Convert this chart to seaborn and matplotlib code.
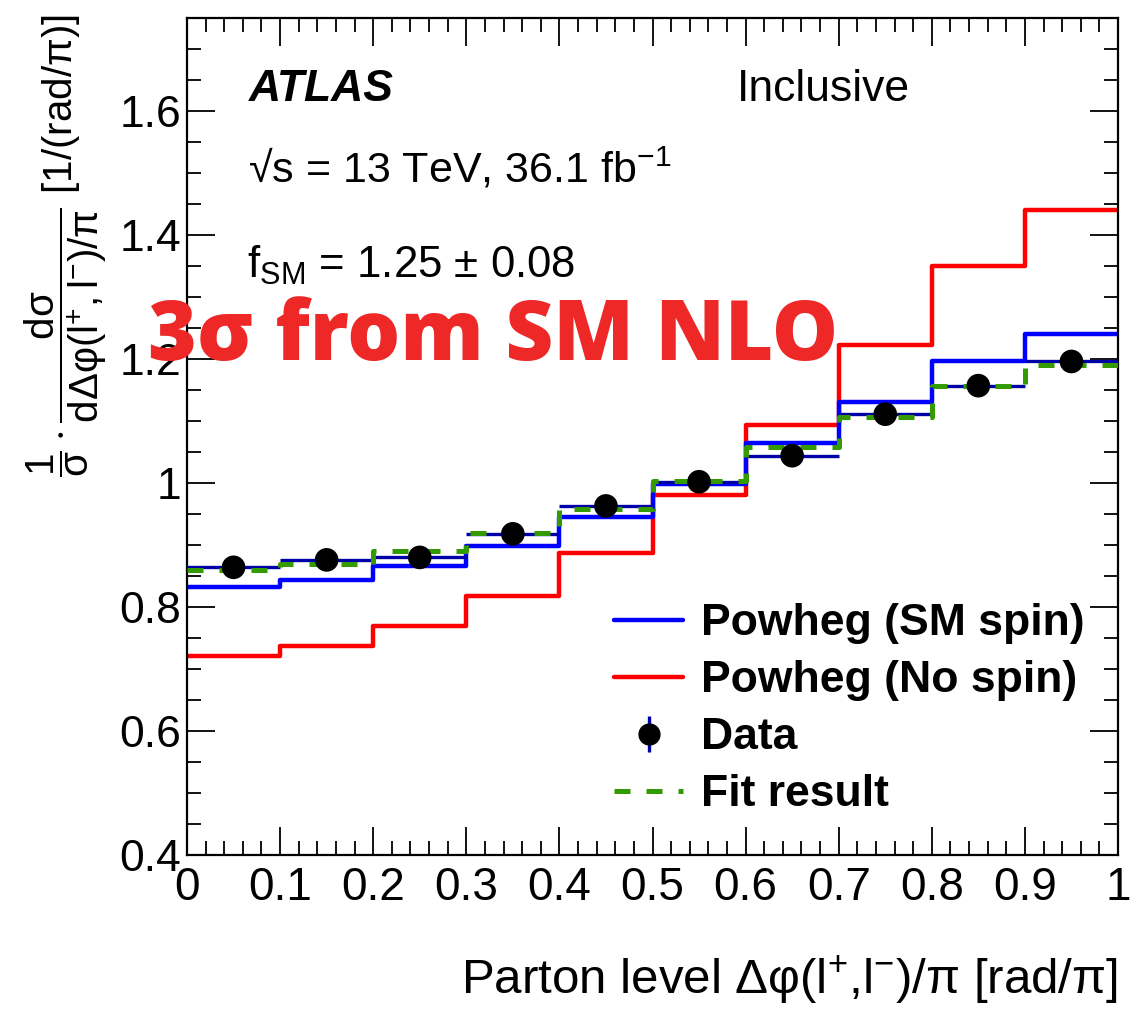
import numpy as np
import pandas as pd
import matplotlib
matplotlib.use("Agg")
import matplotlib.pyplot as plt
from matplotlib.lines import Line2D
from matplotlib.ticker import MultipleLocator
import seaborn as sns

# Bin edges of Δφ(l+,l-)/π
bin_edges = [0.0, 0.1, 0.2, 0.3, 0.4, 0.5, 0.6, 0.7, 0.8, 0.9, 1.0]
bin_centers = [0.05, 0.15, 0.25, 0.35, 0.45, 0.55, 0.65, 0.75, 0.85, 0.95]

# Normalised differential cross-sections per bin
powheg_sm_spin = [0.833, 0.843, 0.866, 0.898, 0.945, 0.999, 1.064, 1.130, 1.196, 1.240]
powheg_no_spin = [0.721, 0.737, 0.769, 0.818, 0.887, 0.980, 1.093, 1.222, 1.350, 1.441]
fit_result = [0.860, 0.869, 0.890, 0.919, 0.958, 1.004, 1.058, 1.107, 1.157, 1.191]
data_values = [0.864, 0.876, 0.880, 0.918, 0.963, 1.002, 1.044, 1.111, 1.157, 1.196]
data_errors = [0.006, 0.006, 0.007, 0.007, 0.008, 0.010, 0.009, 0.009, 0.009, 0.011]

x_ticks = [0.0, 0.1, 0.2, 0.3, 0.4, 0.5, 0.6, 0.7, 0.8, 0.9, 1.0]
x_ticklabels = ["0", "0.1", "0.2", "0.3", "0.4", "0.5", "0.6", "0.7", "0.8", "0.9", "1"]
y_ticks = [0.4, 0.6, 0.8, 1.0, 1.2, 1.4, 1.6]
y_ticklabels = ["0.4", "0.6", "0.8", "1", "1.2", "1.4", "1.6"]

sns.set_theme(style="ticks")
plt.rcParams["font.family"] = ["Liberation Sans", "DejaVu Sans"]
plt.rcParams["text.color"] = "black"
plt.rcParams["axes.labelcolor"] = "black"
plt.rcParams["xtick.color"] = "black"
plt.rcParams["ytick.color"] = "black"
plt.rcParams["mathtext.fontset"] = "custom"
plt.rcParams["mathtext.rm"] = "Liberation Sans"
plt.rcParams["mathtext.it"] = "Liberation Sans"
plt.rcParams["mathtext.bf"] = "Liberation Sans:bold"
plt.rcParams["mathtext.default"] = "regular"

BLUE = "#0000FF"
RED = "#FF0000"
GREEN = "#339A00"
NAVY = "#0000A8"

fig = plt.figure(figsize=(11.43, 10.11), dpi=100)
ax = fig.add_axes([187 / 1143, 1 - 855 / 1011, (1118 - 187) / 1143, (855 - 18) / 1011])


def step_frame(values, name):
    return pd.DataFrame({"x": bin_edges, "y": list(values) + [values[-1]], "s": name})


# Histograms drawn as step lines
for vals, col, name in [(powheg_no_spin, RED, "nospin"), (powheg_sm_spin, BLUE, "sm")]:
    sns.lineplot(data=step_frame(vals, name), x="x", y="y", ax=ax, color=col,
                 lw=3.2, drawstyle="steps-post", estimator=None,
                 sort=False, legend=False, zorder=2)

# Data: bin-width bars and statistical uncertainties
ax.errorbar(bin_centers, data_values, xerr=0.05, yerr=data_errors, fmt="none",
            ecolor=NAVY, elinewidth=2.4, capsize=0, zorder=3)

sns.lineplot(data=step_frame(fit_result, "fit"), x="x", y="y", ax=ax, color=GREEN,
             lw=3.6, drawstyle="steps-post", estimator=None, sort=False,
             legend=False, zorder=4)
ax.lines[-1].set_linestyle((0, (3.2, 3.2)))

sns.scatterplot(x=bin_centers, y=data_values, ax=ax, color="black", s=290,
                edgecolor="none", zorder=5, legend=False)

ax.set_xlim(0, 1)
ax.set_ylim(0.4, 1.75)
ax.set_xticks(x_ticks)
ax.set_xticklabels(x_ticklabels)
ax.set_yticks(y_ticks)
ax.set_yticklabels(y_ticklabels)
ax.xaxis.set_minor_locator(MultipleLocator(0.02))
ax.yaxis.set_minor_locator(MultipleLocator(0.05))
ax.tick_params(which="both", direction="in", top=True, right=True, colors="black",
               width=1.3)
ax.tick_params(axis="x", labelsize=33, pad=8)
ax.tick_params(axis="y", labelsize=32, pad=4)
ax.tick_params(which="major", length=20)
ax.tick_params(which="minor", length=10)
for sp in ax.spines.values():
    sp.set_linewidth(1.6)
    sp.set_color("black")
ax.set_xlabel("")
ax.set_ylabel("")

# Axis titles
fig.text(1118 / 1143, 1 - 1006 / 1011,
         "Parton level Δφ(l$^{+}$,l$^{-}$)/π [rad/π]",
         ha="right", va="bottom", fontsize=35.5)
fig.text(66 / 1143, 1 - 14 / 1011,
         r"$\dfrac{1}{σ}\cdot\dfrac{dσ}{dΔφ(l^{+},l^{-})/π}$ [1/(rad/π)]",
         rotation=90, ha="center", va="top", fontsize=29)

ax.text(0.067, 0.915, "ATLAS", transform=ax.transAxes, fontsize=32,
        fontweight="bold", fontstyle="italic", va="center")
ax.text(0.591, 0.915, "Inclusive", transform=ax.transAxes, fontsize=32, va="center")
ax.text(0.066, 0.82, "√s = 13 TeV, 36.1 fb$^{-1}$", transform=ax.transAxes,
        fontsize=31, va="center")
ax.text(0.064, 0.705, "f$_{SM}$ = 1.25 ± 0.08", transform=ax.transAxes,
        fontsize=31.5, va="center")

fig.text(148 / 1143, 1 - 360 / 1011, "3σ from SM NLO", color="#EE2727",
         fontsize=60, fontweight="heavy", family=["Open Sans", "DejaVu Sans"],
         ha="left", va="baseline", zorder=10)

# Legend
data_handle = (
    Line2D([], [], color=NAVY, marker="|", markersize=26, mew=2.4, lw=0),
    Line2D([], [], color="black", marker="o", markersize=15, lw=0),
)
handles = [
    Line2D([], [], color=BLUE, lw=3.2),
    Line2D([], [], color=RED, lw=3.2),
    data_handle,
    Line2D([], [], color=GREEN, lw=3.6, linestyle=(0, (3.2, 3.2))),
]
labels = ["Powheg (SM spin)", "Powheg (No spin)", "Data", "Fit result"]
ax.legend(handles, labels, loc="upper left", bbox_to_anchor=(0.44, 0.322),
          frameon=False, prop={"size": 32, "weight": "bold"},
          handlelength=1.55, handletextpad=0.4, labelspacing=0.36,
          borderaxespad=0)

fig.savefig("out.png", dpi=100)
